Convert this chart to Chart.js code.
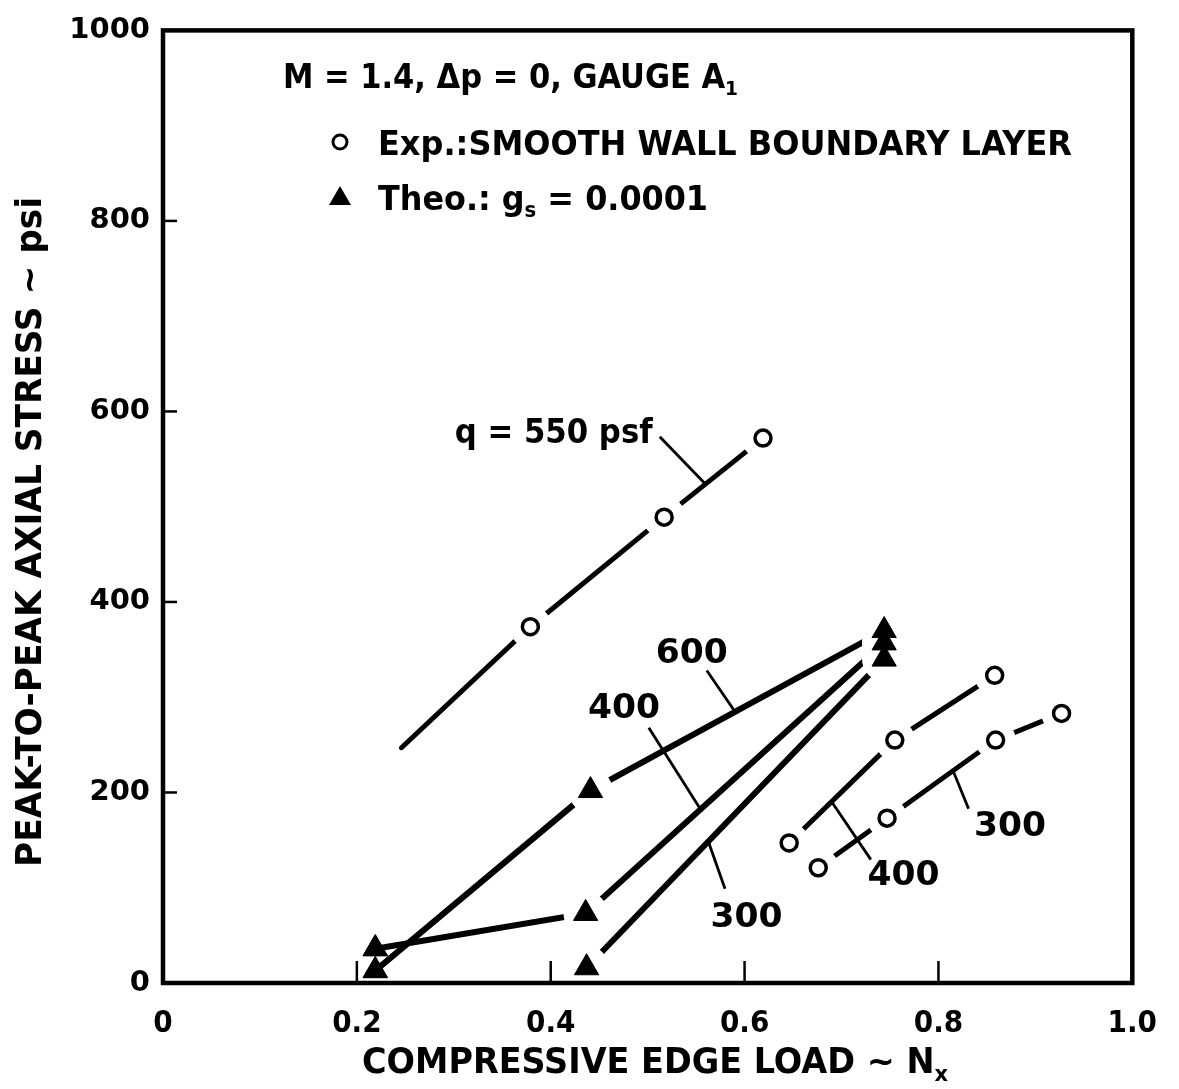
<!DOCTYPE html>
<html>
<head>
<meta charset="utf-8">
<script src="https://cdn.jsdelivr.net/npm/chart.js@4.4.1/dist/chart.umd.min.js"></script>
<style>
  html, body { margin: 0; padding: 0; background: #fff; }
  #wrap { width: 1179px; height: 1089px; }
</style>
</head>
<body>
<div id="wrap"><canvas id="grafico" width="1179" height="1089"></canvas></div>
<script>
// Experimental points (open circles)
const nx550 = [0.379, 0.517, 0.619];
const exp550 = [374, 489, 572];
const fit550Start = [0.246, 247];   // faired line starts left of the first point
const nx400e = [0.646, 0.755, 0.858];
const exp400 = [147, 255, 323];
const nx300e = [0.676, 0.747, 0.859, 0.927];
const exp300 = [121, 173, 255, 283];

// Theory (filled triangles)
const nx600t = [0.219, 0.441, 0.744];
const theo600 = [13, 202, 370];
const nx400t = [0.219, 0.436, 0.744];
const theo400 = [36, 73, 357];
const nx300t = [0.437, 0.744];
const theo300 = [16, 340];

const xTickLabels = ["0", "0.2", "0.4", "0.6", "0.8", "1.0"];
const yTickLabels = ["0", "200", "400", "600", "800", "1000"];

// curve labels: text, centre (x, y), leader from (x1, y1) to (x2, y2), all in data units
const curveLabels = [
    ["q = 550 psf", 0.403, 579, 0.5125, 573.5, 0.5593, 524],
    ["600", 0.5456, 348, 0.561, 328, 0.590, 285],
    ["400", 0.4756, 291, 0.5012, 268, 0.5542, 183],
    ["300", 0.602, 71, 0.5628, 148, 0.5798, 99],
    ["400", 0.764, 115, 0.69, 190, 0.7303, 129.5],
    ["300", 0.8738, 167, 0.815, 223, 0.8311, 183]
];

const pts = (xs, ys) => xs.map((x, i) => ({ x: x, y: ys[i] }));

function lineSet(data, w) {
    return { type: "scatter", showLine: true, data: data, borderColor: "#000", borderWidth: w,
             pointRadius: 0, borderCapStyle: "round", role: "line" };
}
function haloSet(data, r, keepStart) {
    // white disc under each marker so the faired line stops short of it
    return { type: "scatter", data: data, pointStyle: "circle",
             pointRadius: c => (!keepStart && c.raw && c.raw.x < 0.3) ? 0 : r,
             backgroundColor: "#fff", borderColor: "#fff", borderWidth: 0, role: "halo" };
}
function circleSet(data) {
    return { type: "scatter", data: data, pointStyle: "circle", pointRadius: 8,
             backgroundColor: "#fff", borderColor: "#000", borderWidth: 3.5, role: "marker" };
}
function triSet(data) {
    return { type: "scatter", data: data, pointStyle: "triangle", pointRadius: 14,
             backgroundColor: "#000", borderColor: "#000", borderWidth: 1, role: "marker" };
}

const e550 = pts(nx550, exp550), e400 = pts(nx400e, exp400), e300 = pts(nx300e, exp300);
const t600 = pts(nx600t, theo600), t400 = pts(nx400t, theo400), t300 = pts(nx300t, theo300);

// draw text stretched/compressed to a given width, parts = [[text, isSubscript], ...]
function fitText(ctx, parts, x, base, width, size) {
    const big = "bold " + size + "px 'DejaVu Sans Condensed', 'DejaVu Sans'";
    const small = "bold " + Math.round(size * 0.62) + "px 'DejaVu Sans Condensed', 'DejaVu Sans'";
    let natural = 0;
    parts.forEach(p => { ctx.font = p[1] ? small : big; natural += ctx.measureText(p[0]).width; });
    ctx.save();
    ctx.translate(x, base);
    ctx.scale(width / natural, 1);
    let cx = 0;
    ctx.textAlign = "left";
    ctx.textBaseline = "alphabetic";
    parts.forEach(p => {
        ctx.font = p[1] ? small : big;
        ctx.fillText(p[0], cx, p[1] ? size * 0.22 : 0);
        cx += ctx.measureText(p[0]).width;
    });
    ctx.restore();
}

const decor = {
    id: "decor",
    beforeDatasetsDraw(chart) {
        const ctx = chart.ctx, a = chart.chartArea;
        const xs = chart.scales.x, ys = chart.scales.y;
        ctx.save();
        ctx.strokeStyle = "#000";
        ctx.lineWidth = 2.5;
        [0.2, 0.4, 0.6, 0.8].forEach(v => {
            const px = xs.getPixelForValue(v);
            ctx.beginPath(); ctx.moveTo(px, a.bottom); ctx.lineTo(px, a.bottom - 22); ctx.stroke();
        });
        [200, 400, 600, 800].forEach(v => {
            const py = ys.getPixelForValue(v);
            ctx.beginPath(); ctx.moveTo(a.left, py); ctx.lineTo(a.left + 14, py); ctx.stroke();
        });
        ctx.restore();
    },
    afterDatasetsDraw(chart) {
        const ctx = chart.ctx, a = chart.chartArea;
        const xs = chart.scales.x, ys = chart.scales.y;

        // halos over every line, then the markers over the halos
        ["halo", "marker"].forEach(role => {
            chart.data.datasets.forEach((ds, i) => {
                if (ds.role !== role) return;
                chart.getDatasetMeta(i).data.forEach(el => el.draw(ctx, a));
            });
        });

        ctx.save();
        ctx.fillStyle = "#000";
        ctx.strokeStyle = "#000";
        ctx.lineWidth = 4.5;
        ctx.strokeRect(a.left, a.top, a.right - a.left, a.bottom - a.top);

        // leaders and curve labels
        ctx.lineWidth = 2.8;
        curveLabels.forEach(l => {
            ctx.beginPath();
            ctx.moveTo(xs.getPixelForValue(l[3]), ys.getPixelForValue(l[4]));
            ctx.lineTo(xs.getPixelForValue(l[5]), ys.getPixelForValue(l[6]));
            ctx.stroke();
            const w = l[0].length > 3 ? 198 : 72;
            const cx = xs.getPixelForValue(l[1]), cy = ys.getPixelForValue(l[2]);
            fitText(ctx, [[l[0], false]], cx - w / 2, cy + 12, w, 33);
        });

        // heading and key
        fitText(ctx, [["M = 1.4, \u0394p = 0, GAUGE A", false], ["1", true]], 283, 88, 455, 33);
        ctx.lineWidth = 3;
        ctx.beginPath(); ctx.arc(340, 142, 7, 0, Math.PI * 2); ctx.stroke();
        fitText(ctx, [["Exp.:SMOOTH WALL BOUNDARY LAYER", false]], 378, 155, 694, 34);
        ctx.beginPath();
        ctx.moveTo(340, 186); ctx.lineTo(351, 205); ctx.lineTo(329, 205); ctx.closePath(); ctx.fill();
        fitText(ctx, [["Theo.: g", false], ["s", true], [" = 0.0001", false]], 378, 210, 330, 34);

        // axis titles
        fitText(ctx, [["COMPRESSIVE EDGE LOAD ~ N", false], ["x", true]], 362, 1073, 586, 35);
        ctx.save();
        ctx.translate(28, 532);
        ctx.rotate(-Math.PI / 2);
        fitText(ctx, [["PEAK-TO-PEAK AXIAL STRESS ~ psi", false]], -335, 13, 670, 35);
        ctx.restore();
        ctx.restore();
    }
};

document.addEventListener("DOMContentLoaded", function () {
    new Chart(document.getElementById("grafico"), {
        type: "scatter",
        data: {
            datasets: [
                circleSet(e550), circleSet(e400), circleSet(e300),
                triSet(t600), triSet(t400), triSet(t300),
                haloSet(e550, 21, true), haloSet(e400, 20, true), haloSet(e300, 20, true),
                haloSet(t600, 22, false), haloSet(t400, 22, false), haloSet(t300, 22, false),
                lineSet([{ x: fit550Start[0], y: fit550Start[1] }].concat(e550), 5),
                lineSet(e400, 5), lineSet(e300, 5),
                lineSet(t600, 6), lineSet(t400, 6), lineSet(t300, 6)
            ]
        },
        options: {
            responsive: false,
            animation: false,
            devicePixelRatio: 1,
            layout: { padding: { top: 20, right: 41, left: 0, bottom: 0 } },
            plugins: { legend: { display: false }, tooltip: { enabled: false } },
            scales: {
                x: {
                    type: "linear", min: 0, max: 1,
                    afterBuildTicks: s => { s.ticks = xTickLabels.map(t => ({ value: parseFloat(t) })); },
                    afterFit: s => { s.height = 106; },
                    grid: { display: false, drawTicks: false },
                    border: { display: false },
                    ticks: {
                        padding: 22, color: "#000", maxRotation: 0, autoSkip: false,
                        font: { family: "'DejaVu Sans Condensed', 'DejaVu Sans'", size: 31, weight: "bold" },
                        callback: (v, i) => xTickLabels[i]
                    }
                },
                y: {
                    type: "linear", min: 0, max: 1000,
                    afterBuildTicks: s => { s.ticks = yTickLabels.map(t => ({ value: parseFloat(t) })); },
                    afterFit: s => { s.width = 163; },
                    grid: { display: false, drawTicks: false },
                    border: { display: false },
                    ticks: {
                        padding: 13, color: "#000", autoSkip: false,
                        font: { family: "'DejaVu Sans'", size: 29, weight: "bold" },
                        callback: (v, i) => yTickLabels[i]
                    }
                }
            }
        },
        plugins: [decor]
    });
});
</script>
</body>
</html>
